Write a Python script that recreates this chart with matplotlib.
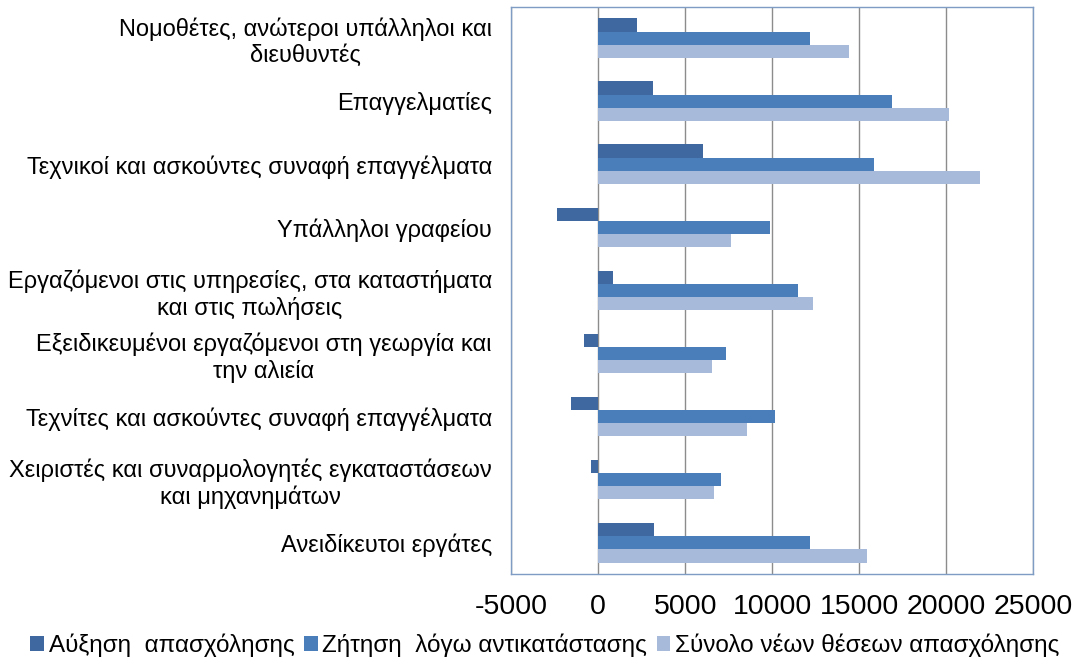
import numpy as np
import matplotlib
matplotlib.use("Agg")
import matplotlib.pyplot as plt

plt.rcParams['font.family'] = ['Liberation Sans', 'DejaVu Sans']
plt.rcParams['axes.unicode_minus'] = False

categories = [
    "Νομοθέτες, ανώτεροι υπάλληλοι και\nδιευθυντές",
    "Επαγγελματίες",
    "Τεχνικοί και ασκούντες συναφή επαγγέλματα",
    "Υπάλληλοι γραφείου",
    "Εργαζόμενοι στις υπηρεσίες, στα καταστήματα\nκαι στις πωλήσεις",
    "Εξειδικευμένοι εργαζόμενοι στη γεωργία και\nτην αλιεία",
    "Τεχνίτες και ασκούντες συναφή επαγγέλματα",
    "Χειριστές και συναρμολογητές εγκαταστάσεων\nκαι μηχανημάτων",
    "Ανειδίκευτοι εργάτες",
]
growth = [2220, 3160, 6010, -2350, 830, -830, -1590, -390, 3220]
replacement = [12140, 16880, 15860, 9890, 11480, 7340, 10170, 7040, 12140]
total = [14400, 20170, 21920, 7620, 12350, 6510, 8560, 6670, 15420]
series_names = ["Αύξηση  απασχόλησης", "Ζήτηση  λόγω αντικατάστασης",
                "Σύνολο νέων θέσεων απασχόλησης"]
colors = ["#3F67A0", "#4A7EBB", "#A8BAD9"]

fig = plt.figure(figsize=(10.9, 6.7), dpi=100)
ax = fig.add_axes([0.469, 0.143, 0.479, 0.847])

y = np.arange(len(categories))
h = 0.21
for i, (vals, name, c) in enumerate(zip([growth, replacement, total], series_names, colors)):
    ax.barh(y + (i - 1) * h, vals, height=h, color=c, label=name, zorder=3)

ax.set_xlim(-5000, 25000)
ax.set_xticks(np.arange(-5000, 25001, 5000))
ax.set_ylim(len(categories) - 0.5, -0.5)
ax.set_yticks(y)
ax.set_yticklabels(categories, fontsize=17, multialignment='center')
ax.tick_params(axis='x', labelsize=20.5, length=0, pad=14)
ax.tick_params(axis='y', length=0, pad=14)
ax.grid(axis='x', color='#8C8C8C', linewidth=1, zorder=0)
for s in ax.spines.values():
    s.set_color('#7F9DC4')
    s.set_linewidth(1)

fig.legend(loc='lower center', ncol=3, frameon=False, fontsize=17.5,
           bbox_to_anchor=(0.5, -0.006), handlelength=0.55, handleheight=0.55,
           handletextpad=0.2, columnspacing=0.4, borderpad=0.2)

fig.savefig("out.png", dpi=100)
